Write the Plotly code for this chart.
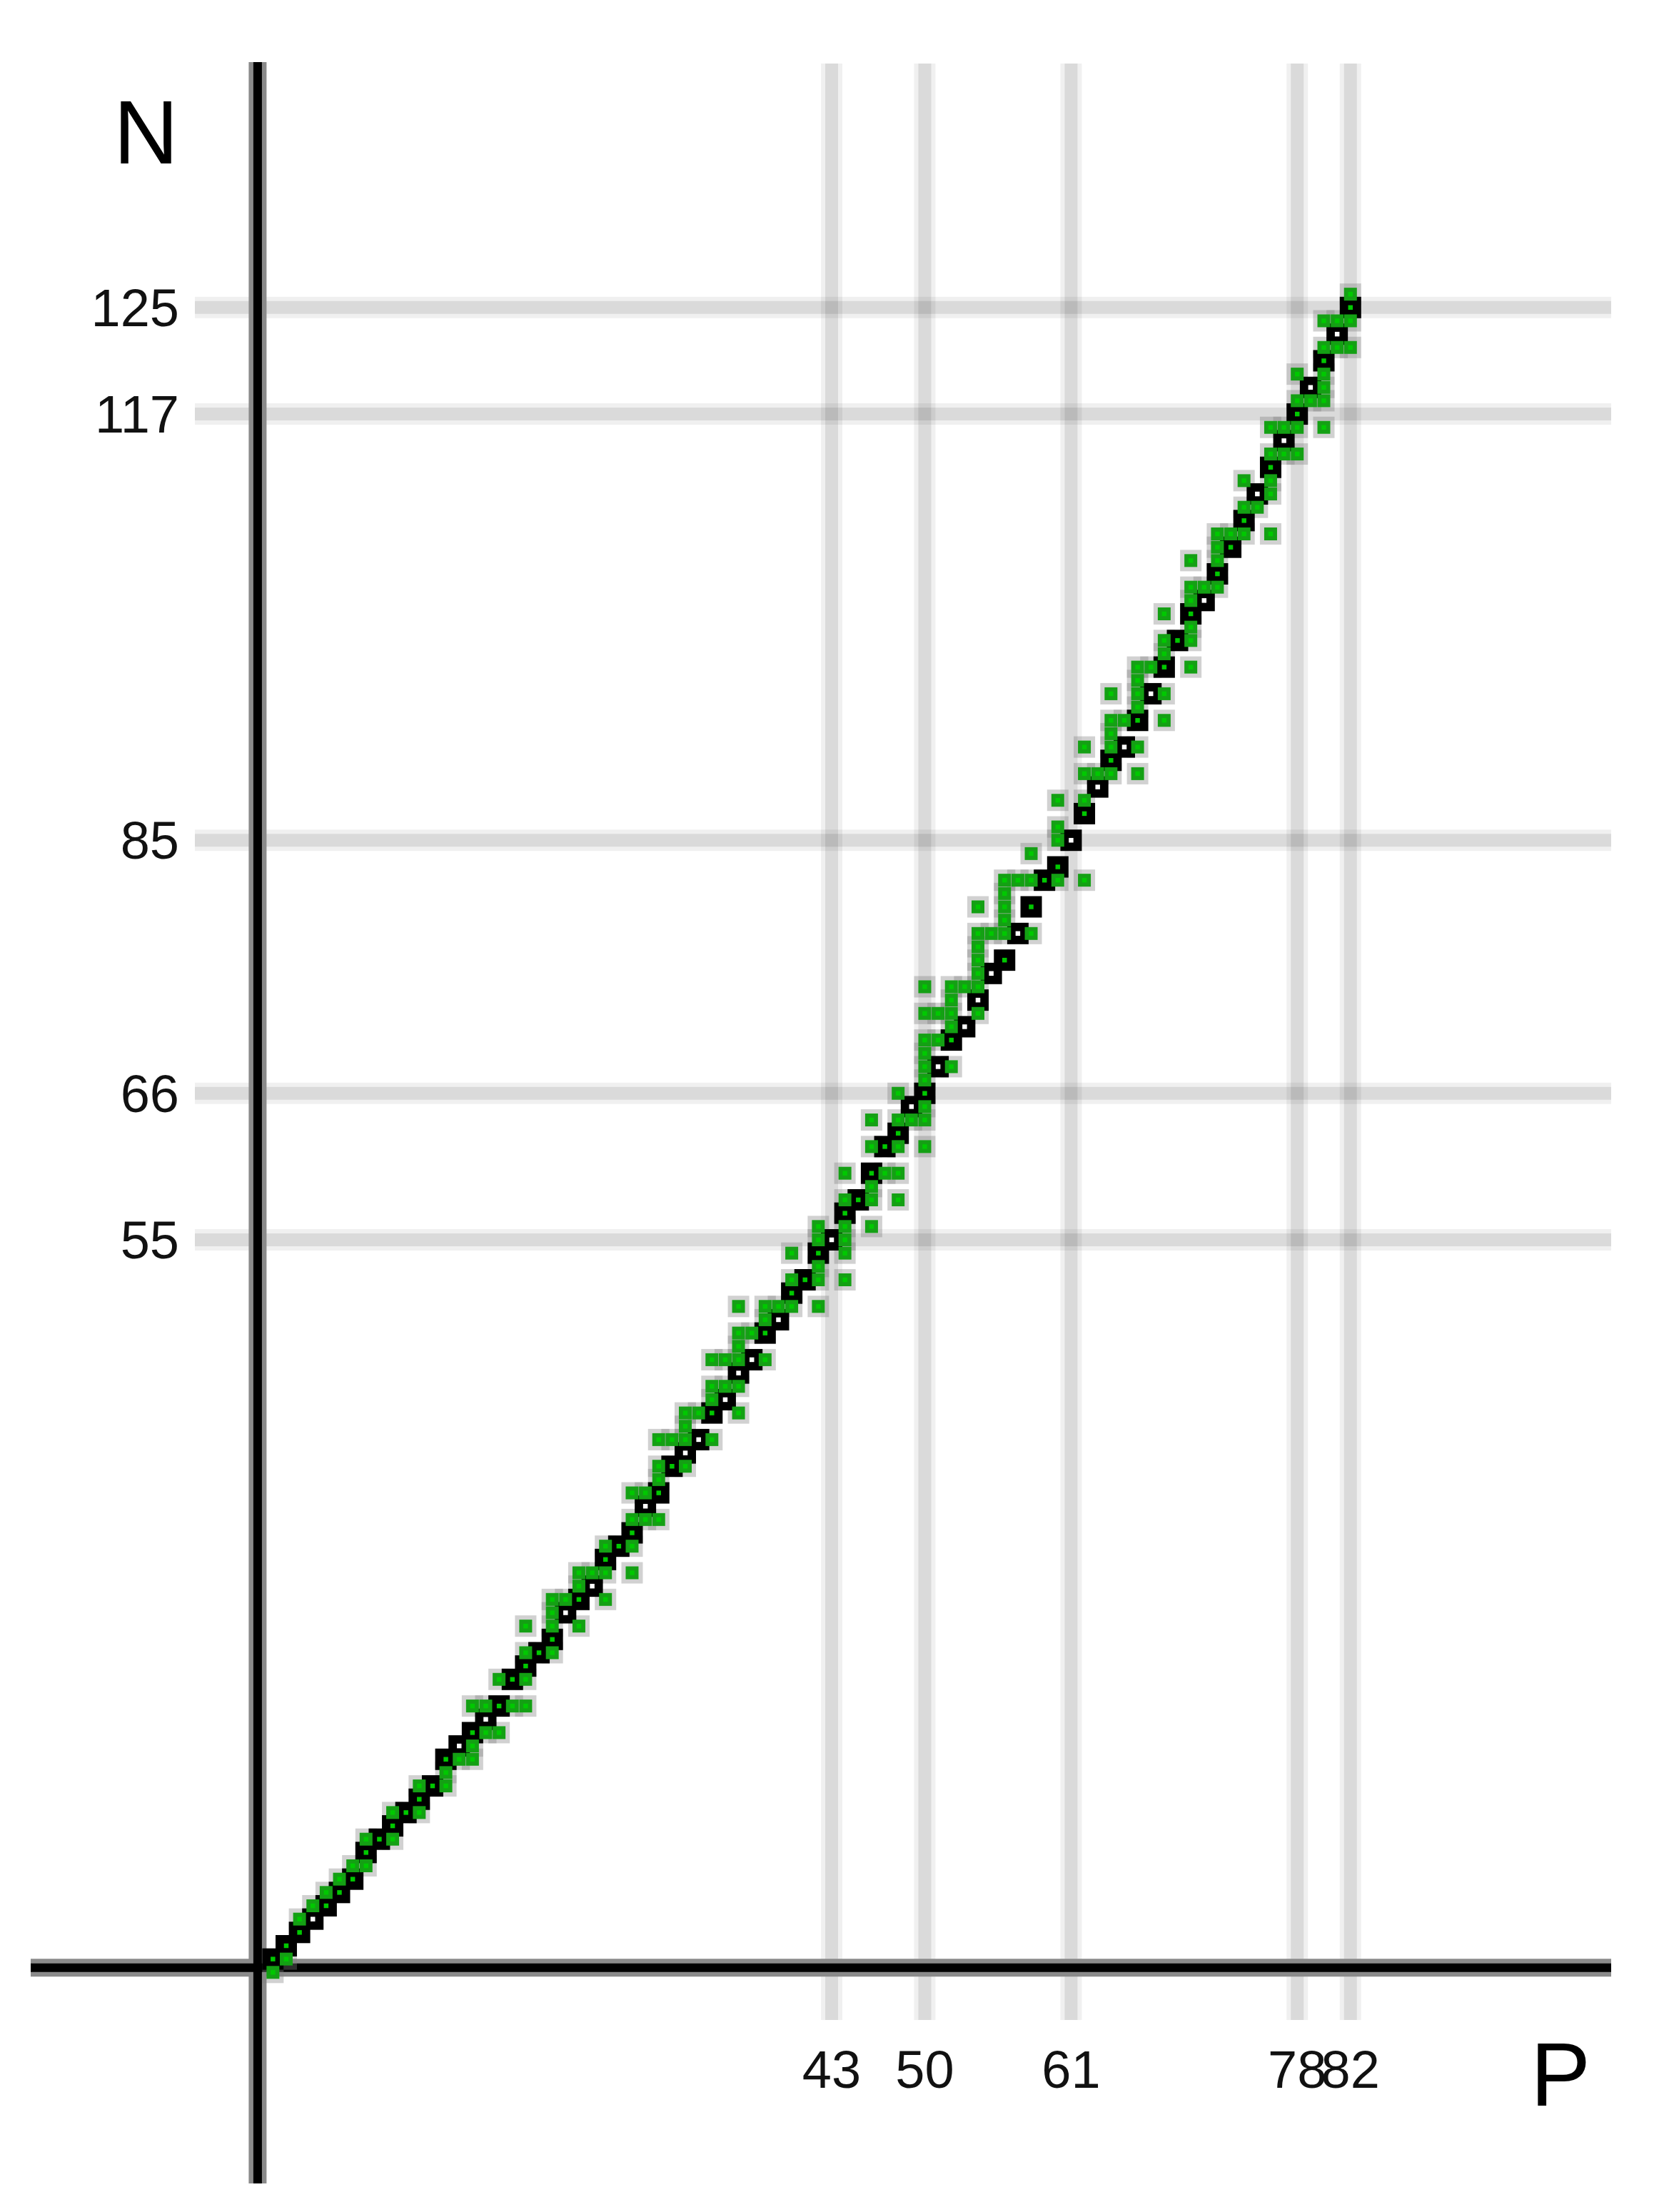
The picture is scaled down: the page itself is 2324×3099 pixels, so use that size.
import plotly.graph_objects as go

W, H = 2324, 3099

# ---- data -------------------------------------------------------------
# proton numbers shown on the chart
P_values = list(range(1, 83))

# neutron number of the black "model" square for each P (1..82)
model_N = [1, 2, 3, 4, 5, 6, 7, 9, 10, 11, 12, 13, 14,
           16, 17, 18, 19, 20, 22, 23, 24, 25, 27, 28, 29, 31,
           32, 33, 35, 36, 38, 39, 40, 42, 43, 45, 46, 48, 49,
           51, 52, 54, 55, 57, 58, 60, 62, 63, 65, 66, 68, 70,
           71, 73, 75, 76, 78, 80, 82, 83, 85, 87, 89, 91, 92,
           94, 96, 98, 100, 102, 103, 105, 107, 109, 111, 113, 115, 117,
           119, 121, 123, 125]

# neutron numbers of the stable nuclides (green squares), one list per P
stable_N = [
    [0, 1], [1, 2], [3, 4], [5], [5, 6], [6, 7], [7, 8], [8, 9, 10], [10],
    [10, 11, 12], [12], [12, 13, 14], [14], [14, 15, 16], [16],
    [16, 17, 18, 20], [18, 20], [18, 20, 22], [20, 22], [20, 22, 23, 24, 26],
    [24], [24, 25, 26, 27, 28], [28], [26, 28, 29, 30], [30],
    [28, 30, 31, 32], [32], [30, 32, 33, 34, 36], [34, 36],
    [34, 36, 37, 38, 40], [38, 40], [38, 40, 41, 42], [42],
    [40, 42, 43, 44, 46], [44, 46], [42, 44, 46, 47, 48, 50], [48],
    [46, 48, 49, 50], [50], [50, 51, 52, 54], [52], [50, 52, 53, 54, 55, 56],
    [], [52, 54, 55, 56, 57, 58, 60], [58], [56, 58, 59, 60, 62, 64],
    [60, 62], [58, 60, 62, 63, 64, 66], [64],
    [62, 64, 65, 66, 67, 68, 69, 70, 72, 74], [70, 72],
    [68, 70, 71, 72, 73, 74], [74], [72, 74, 75, 76, 77, 78, 80], [78],
    [76, 78, 79, 80, 81, 82], [82], [78, 80, 82, 84], [82],
    [82, 83, 85, 86, 88], [], [82, 87, 88, 90, 92], [90],
    [90, 91, 92, 93, 94, 96], [94], [90, 92, 94, 95, 96, 97, 98], [98],
    [94, 96, 98, 99, 100, 102], [100], [98, 100, 101, 102, 103, 104, 106],
    [104], [104, 105, 106, 107, 108], [107, 108], [108, 109, 110, 112],
    [110], [108, 111, 112, 113, 114, 116], [114, 116],
    [114, 116, 117, 118, 120], [118], [116, 118, 119, 120, 121, 122, 124],
    [122, 124], [122, 124, 125, 126],
]

x_ticks = [43, 50, 61, 78, 82]
y_ticks = [55, 66, 85, 117, 125]

assert len(model_N) == len(P_values) == len(stable_N)

# ---- derived point lists ---------------------------------------------
black = set(zip(P_values, model_N))
stable = set((p, n) for p, ns in zip(P_values, stable_N) for n in ns)

gx, gy = [], []
for p, ns in zip(P_values, stable_N):
    for n in ns:
        if (p, n) not in black:
            gx.append(p)
            gy.append(n)

dot_x, dot_y, dot_c = [], [], []
for p, n in zip(gx, gy):
    dot_x.append(p); dot_y.append(n); dot_c.append("#00c800")
for p, n in zip(P_values, model_N):
    dot_x.append(p); dot_y.append(n)
    dot_c.append("#00c800" if (p, n) in stable else "#ffffff")

# ---- pixel <-> data mapping (plot area = whole page) ------------------
px_per_P = 18.635
px_per_N = 18.66
x0_px, y0_px = 363.7, 2763.3          # pixel position of P=0 / N=0
x_range = [-x0_px / px_per_P, (W - x0_px) / px_per_P]
y_range = [(y0_px - H) / px_per_N, y0_px / px_per_N]

def fx(px):  # paper fraction from pixel x
    return px / W

def fy(py):  # paper fraction from pixel y (top-origin)
    return 1 - py / H

FONT = "Liberation Sans, Arial, Helvetica, sans-serif"

fig = go.Figure()

# halos of the green squares
fig.add_trace(go.Scatter(
    x=gx, y=gy, mode="markers", hoverinfo="skip",
    marker=dict(symbol="square", size=30, color="rgba(128,128,128,0.36)",
                line=dict(width=0))))
# black model squares
fig.add_trace(go.Scatter(
    x=P_values, y=model_N, mode="markers", hoverinfo="skip",
    marker=dict(symbol="square", size=30, color="#000000", line=dict(width=0))))
# green stable squares
fig.add_trace(go.Scatter(
    x=gx, y=gy, mode="markers", hoverinfo="skip",
    marker=dict(symbol="square", size=18, color="#14a014", line=dict(width=0))))
# centre dots
fig.add_trace(go.Scatter(
    x=dot_x, y=dot_y, mode="markers", hoverinfo="skip",
    marker=dict(symbol="square", size=6.5, color=dot_c, line=dict(width=0))))

shapes = []
# grid lines (two-tone, translucent)
for v in x_ticks:
    for w, a in ((30, 0.06), (18, 0.09)):
        shapes.append(dict(type="line", xref="x", yref="paper", x0=v, x1=v,
                           y0=fy(2830), y1=fy(89), layer="below",
                           line=dict(color=f"rgba(0,0,0,{a})", width=w)))
for v in y_ticks:
    for w, a in ((30, 0.06), (18, 0.09)):
        shapes.append(dict(type="line", xref="paper", yref="y", y0=v, y1=v,
                           x0=fx(273), x1=fx(2257), layer="below",
                           line=dict(color=f"rgba(0,0,0,{a})", width=w)))
# main axes
axP, axN = -0.15, 0.35
for w, c in ((25, "#8a8a8a"), (12, "#000000")):
    shapes.append(dict(type="line", xref="x", yref="paper", x0=axP, x1=axP,
                       y0=fy(3059), y1=fy(87), layer="below",
                       line=dict(color=c, width=w)))
    shapes.append(dict(type="line", xref="paper", yref="y", y0=axN, y1=axN,
                       x0=fx(43), x1=fx(2257), layer="below",
                       line=dict(color=c, width=w)))

fig.update_layout(
    width=W, height=H, margin=dict(l=0, r=0, t=0, b=0, pad=0),
    paper_bgcolor="white", plot_bgcolor="rgba(0,0,0,0)",
    showlegend=False, shapes=shapes,
    xaxis=dict(range=x_range, showgrid=False, zeroline=False, showline=False,
               tickmode="array", tickvals=x_ticks,
               ticktext=[str(v) for v in x_ticks], ticks="", tickangle=0,
               anchor="free", position=fy(2830), side="bottom",
               ticklabelstandoff=20,
               tickfont=dict(family=FONT, size=74, color="#111111")),
    yaxis=dict(range=y_range, showgrid=False, zeroline=False, showline=False,
               tickmode="array", tickvals=y_ticks,
               ticktext=[str(v) for v in y_ticks], ticks="",
               anchor="free", position=fx(273), side="left",
               ticklabelstandoff=22,
               tickfont=dict(family=FONT, size=74, color="#111111")),
    annotations=[
        dict(text="N", xref="paper", yref="paper", x=fx(204), y=fy(186),
             xanchor="center", yanchor="middle", showarrow=False,
             font=dict(family=FONT, size=126, color="#000000")),
        dict(text="P", xref="paper", yref="paper", x=fx(2186), y=fy(2906),
             xanchor="center", yanchor="middle", showarrow=False,
             font=dict(family=FONT, size=126, color="#000000")),
    ],
)

fig.write_html("out.html", config={"displayModeBar": False},
               post_script="document.body.style.margin='0';")
